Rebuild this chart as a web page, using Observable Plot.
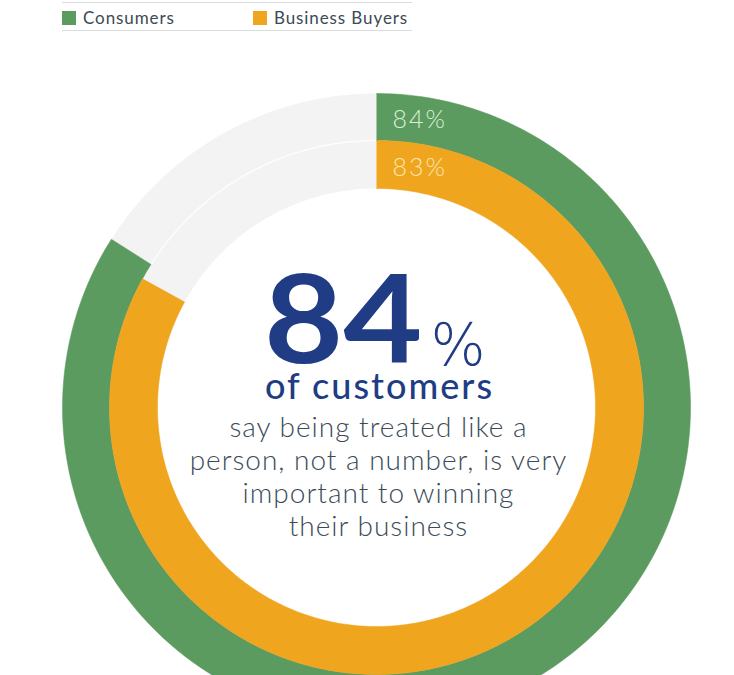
<!DOCTYPE html>
<html><head><meta charset="utf-8">
<script src="https://cdn.jsdelivr.net/npm/d3@7"></script>
<script src="https://cdn.jsdelivr.net/npm/@observablehq/plot@0.6"></script>
<style>
body{margin:0;background:#fff;}
#wrap{position:relative;width:734px;height:675px;overflow:hidden;background:#fff;}
#legend{position:absolute;left:62px;top:2px;width:350px;height:27px;border-top:1.5px solid #d9dcdc;border-bottom:1.5px solid #d9dcdc;font-family:Lato,"Open Sans",sans-serif;font-size:17px;letter-spacing:0.9px;color:#3b4a55;}
.item{position:absolute;top:4px;display:flex;align-items:center;}
.sw{width:14px;height:14px;margin-right:7px;}
#chart svg{display:block;}
</style></head>
<body>
<div id="wrap"><div id="chart"></div><div id="legend"></div></div>
<script>
const series = ["Consumers", "Business Buyers"];
const values = [84, 83];
const colors = ["#5b9b5f", "#f0a51f"];
const labelColors = ["#d9efd6", "#fbe6ae"];
const headline = "84";
const headlineUnit = "%";
const headlineLabel = "of customers";
const bodyLines = ["say being treated like a", "person, not a number, is very", "important to winning", "their business"];

// ring geometry (pixels)
const radii = [[314, 267], [267, 219]];
const W = 734, H = 675, CX = 376, CY = 407;

function ringPoints(id, v, rOut, rIn, n = 360) {
  const a1 = v / 100 * 2 * Math.PI, pts = [];
  for (let i = 0; i <= n; i++) { const t = a1 * i / n; pts.push({id, x: rOut * Math.sin(t), y: rOut * Math.cos(t)}); }
  for (let i = n; i >= 0; i--) { const t = a1 * i / n; pts.push({id, x: rIn * Math.sin(t), y: rIn * Math.cos(t)}); }
  return pts;
}
const track = ringPoints("track", 100, radii[0][0], radii[1][1]);
const divider = d3.range(0, 361).map(i => ({x: radii[0][1] * Math.sin(i * Math.PI / 180), y: radii[0][1] * Math.cos(i * Math.PI / 180)}));
const arcs = series.map((s, i) => ringPoints(s, values[i], radii[i][0], radii[i][1]));
const ringLabels = series.map((s, i) => ({s, label: values[i] + "%", x: 16, y: (radii[i][0] + radii[i][1]) / 2 - 3, c: labelColors[i]}));

const font = "Lato, 'Open Sans', sans-serif";
const navy = "#1f3c84";
const plot = Plot.plot({
  width: W, height: H, margin: 0,
  x: {domain: [-CX, W - CX], axis: null},
  y: {domain: [CY - H, CY], axis: null},
  marks: [
    Plot.line(track, {x: "x", y: "y", fill: "#f4f3f3", stroke: "none"}),
    Plot.line(divider, {x: "x", y: "y", stroke: "#ffffff", strokeWidth: 1.5, strokeOpacity: 0.8}),
    ...arcs.map((a, i) => Plot.line(a, {x: "x", y: "y", fill: colors[i], stroke: colors[i], strokeWidth: 0.5})),
    Plot.text(ringLabels, {x: "x", y: "y", text: "label", fill: d => d.c, textAnchor: "start", lineAnchor: "middle", fontSize: 25, fontWeight: 300, fontFamily: font}),
    Plot.text([headline], {x: () => 46, y: () => CY - 362, text: d => d, textAnchor: "end", lineAnchor: "bottom", fontSize: 122, fontWeight: 700, fill: navy, fontFamily: font}),
    Plot.text([headlineUnit], {x: () => 54, y: () => CY - 364, text: d => d, textAnchor: "start", lineAnchor: "bottom", fontSize: 58, fontWeight: 200, fill: navy, fontFamily: "'DejaVu Sans', sans-serif"}),
    Plot.text([headlineLabel], {x: () => 3, y: () => CY - 398, text: d => d, textAnchor: "middle", lineAnchor: "bottom", fontSize: 36, fontWeight: 500, fill: navy, fontFamily: font}),
    Plot.text(bodyLines, {x: () => 2, y: (d, i) => CY - (436 + i * 33), text: d => d, textAnchor: "middle", lineAnchor: "bottom", fontSize: 28, fontWeight: 300, fill: "#3d4b57", fontFamily: font})
  ]
});
document.getElementById("chart").append(plot);

// typographic adjustments (letter spacing / width) to approximate the original typeface
const textGroups = plot.querySelectorAll('g[aria-label="text"]');
const spacing = [2, 0, 0, 2, 1];
textGroups.forEach((g, i) => { g.style.letterSpacing = spacing[i] + "px"; });
textGroups[1].querySelectorAll("text").forEach(t => {
  const tr = t.getAttribute("transform");
  if (tr) t.setAttribute("transform", tr + " scale(1.12,1)");
  else {
    const x = +t.getAttribute("x") || 0, y = +t.getAttribute("y") || 0;
    t.setAttribute("transform", `translate(${x},${y}) scale(1.12,1) translate(${-x},${-y})`);
  }
});

const legend = document.getElementById("legend");
const legendX = [0, 191];
series.forEach((s, i) => {
  const d = document.createElement("div");
  d.className = "item"; d.style.left = legendX[i] + "px";
  d.innerHTML = `<span class="sw" style="background:${colors[i]}"></span><span>${s}</span>`;
  legend.append(d);
});
</script>
</body></html>
